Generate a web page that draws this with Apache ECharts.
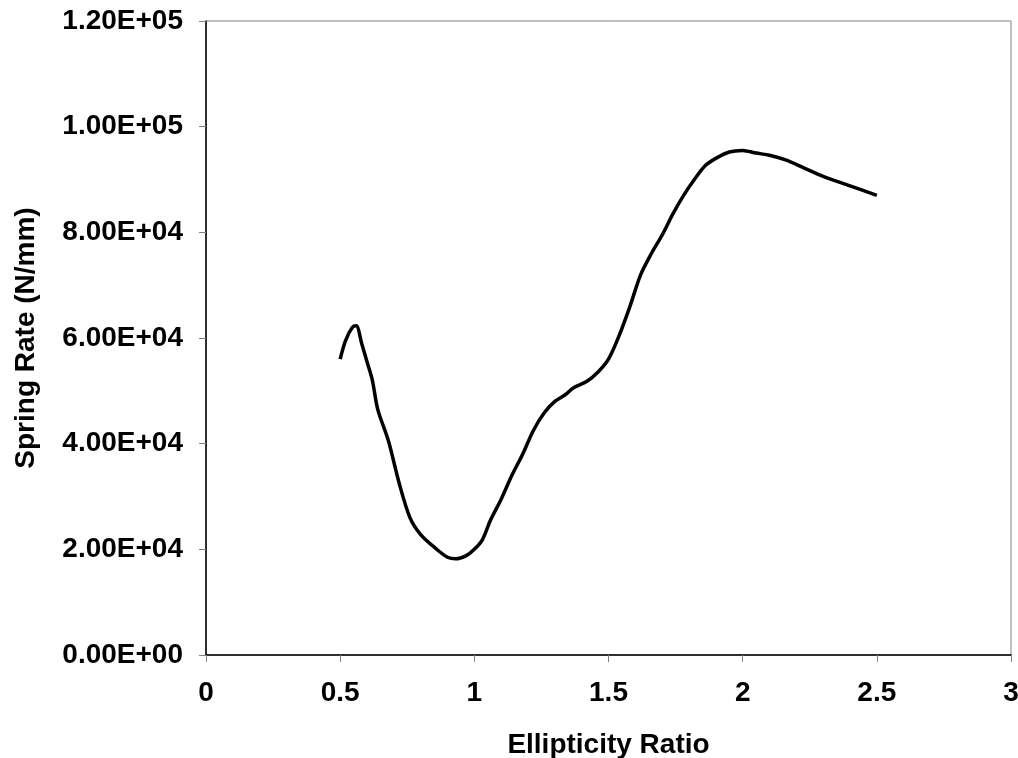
<!DOCTYPE html>
<html>
<head>
    <meta charset="utf-8">
    <script src="https://cdn.jsdelivr.net/npm/echarts@6/dist/echarts.min.js" type="text/javascript"></script>
</head>
<body style="margin:0;background:#fff">
    <div id="chart" style="width:1018px;height:758px"></div>
    <script type="text/javascript">
    // ellipticity ratio vs spring rate
    var ratio = [0.50, 0.52, 0.545, 0.56, 0.58, 0.60, 0.62, 0.64, 0.68, 0.72, 0.76, 0.80, 0.86, 0.90, 0.93, 0.97,
                 1.00, 1.03, 1.06, 1.10, 1.14, 1.18, 1.22, 1.26, 1.30, 1.34, 1.37, 1.42, 1.46, 1.50, 1.54, 1.58,
                 1.62, 1.66, 1.70, 1.74, 1.78, 1.82, 1.86, 1.90, 1.95, 2.00, 2.05, 2.10, 2.16, 2.22, 2.30, 2.40, 2.50];
    var springRate = [56000, 59500, 62000, 62300, 59000, 55500, 52000, 46500, 40500, 32500, 26000, 22800, 20000, 18500, 18200, 18800,
                      20000, 21800, 25500, 29500, 34000, 38000, 42500, 45800, 48000, 49300, 50600, 51800, 53500, 56000, 60500, 66000,
                      72000, 76000, 79500, 83500, 87000, 90000, 92600, 94000, 95200, 95500, 95000, 94600, 93700, 92400, 90600, 88800, 87000];

    var xTicks = { min: 0, max: 3, interval: 0.5 };
    var yTicks = { min: 0, max: 120000, interval: 20000 };

    var sci = function(v) {
        var exp = v === 0 ? 0 : Math.floor(Math.log10(Math.abs(v)));
        var mant = v / Math.pow(10, exp);
        var e = Math.abs(exp);
        return mant.toFixed(2) + 'E' + (exp < 0 ? '-' : '+') + (e < 10 ? '0' + e : e);
    };

    var font = { fontFamily: 'Liberation Sans', fontWeight: 'bold', fontSize: 28, color: '#000' };

    var myChart = echarts.init(document.getElementById('chart'));
    myChart.setOption({
        backgroundColor: '#fff',
        animation: false,
        grid: {
            left: 206, right: 7, top: 21, bottom: 103,
            outerBoundsMode: 'none',
            containLabel: false,
            show: true,
            borderColor: '#808080',
            borderWidth: 1
        },
        xAxis: {
            type: 'value',
            min: xTicks.min, max: xTicks.max, interval: xTicks.interval,
            name: 'Ellipticity Ratio',
            nameLocation: 'middle',
            nameGap: 76,
            nameTextStyle: font,
            axisLine: { lineStyle: { color: '#000', width: 1.5 } },
            axisTick: { length: 7, lineStyle: { color: '#808080' } },
            axisLabel: Object.assign({ margin: 24 }, font),
            splitLine: { show: false }
        },
        yAxis: {
            type: 'value',
            min: yTicks.min, max: yTicks.max, interval: yTicks.interval,
            name: 'Spring Rate (N/mm)',
            nameLocation: 'middle',
            nameGap: 166,
            nameTextStyle: font,
            axisLine: { lineStyle: { color: '#000', width: 1.5 } },
            axisTick: { length: 7, lineStyle: { color: '#808080' } },
            axisLabel: Object.assign({ margin: 23, formatter: sci }, font),
            splitLine: { show: false }
        },
        series: [{
            type: 'line',
            data: ratio.map(function(r, i) { return [r, springRate[i]]; }),
            smooth: 0.3,
            showSymbol: false,
            lineStyle: { color: '#000', width: 3.5 }
        }]
    });
    </script>
</body>
</html>
